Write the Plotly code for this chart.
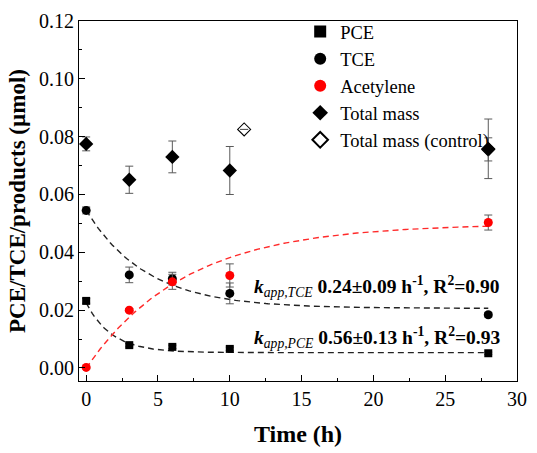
import numpy as np
import plotly.graph_objects as go

# Sampling times (h)
time_h = [0, 3, 6, 10, 28]

# Measured amounts (umol)
pce = [0.0232, 0.0079, 0.0073, 0.0066, 0.0051]
pce_err = [0.0008, 0.0006, 0.0006, 0.0006, 0.0004]
tce = [0.0545, 0.0322, 0.0309, 0.0258, 0.0184]
tce_err = [0.0012, 0.0027, 0.0022, 0.0036, 0.0008]
acetylene = [0.0002, 0.0200, 0.0298, 0.0320, 0.0503]
acetylene_err = [0.0004, 0.0005, 0.0026, 0.0040, 0.0026]
total_mass = [0.0775, 0.0651, 0.0730, 0.0683, 0.0758]
total_mass_err = [0.0024, 0.0047, 0.0055, 0.0083, 0.0103]

control_time = [11, 28]
control_mass = [0.0825, 0.0756]
control_err = [0.0, 0.0040]

# First-order fit parameters
k_tce, k_pce, k_ace = 0.24, 0.56, 0.145
tce_c0, tce_inf = 0.0545, 0.0206
pce_c0, pce_inf = 0.0225, 0.0053
ace_max = 0.0499

t_fit = np.linspace(0, 28, 200)
tce_fit = tce_inf + (tce_c0 - tce_inf) * np.exp(-k_tce * t_fit)
pce_fit = pce_inf + (pce_c0 - pce_inf) * np.exp(-k_pce * t_fit)
ace_fit = ace_max * (1 - np.exp(-k_ace * t_fit))

SERIF = "Liberation Serif"
ERR_COLOR = "#5a5a5a"

fig = go.Figure()

for yv, col in [(tce_fit, "#222222"), (pce_fit, "#222222"), (ace_fit, "#ff2a2a")]:
    fig.add_trace(go.Scatter(x=t_fit, y=yv, mode="lines", showlegend=False,
                             line=dict(color=col, width=1.4, dash="6px,4px"),
                             hoverinfo="skip"))

def err(vals):
    return dict(type="data", array=vals, visible=True, color=ERR_COLOR,
                thickness=1, width=4)

fig.add_trace(go.Scatter(x=time_h, y=pce, mode="markers", name="PCE",
                         error_y=err(pce_err), legendrank=1,
                         marker=dict(symbol="square", size=8, color="black")))
fig.add_trace(go.Scatter(x=time_h, y=tce, mode="markers", name="TCE",
                         error_y=err(tce_err), legendrank=2,
                         marker=dict(symbol="circle", size=9, color="black")))
fig.add_trace(go.Scatter(x=time_h, y=acetylene, mode="markers", name="Acetylene",
                         error_y=err(acetylene_err), legendrank=3,
                         marker=dict(symbol="circle", size=9, color="#ff0000")))
fig.add_trace(go.Scatter(x=control_time, y=control_mass, mode="markers",
                         name="Total mass (control)", error_y=err(control_err),
                         legendrank=5,
                         marker=dict(symbol="diamond-open", size=10, color="black",
                                     line=dict(width=1.1))))
fig.add_trace(go.Scatter(x=time_h, y=total_mass, mode="markers", name="Total mass",
                         error_y=err(total_mass_err), legendrank=4,
                         marker=dict(symbol="diamond", size=11, color="black")))

label_font = dict(family=SERIF, size=19.5, color="black")
fig.add_annotation(x=11.55, y=0.0283, xref="x", yref="y", xanchor="left",
                   yanchor="middle", showarrow=False, font=label_font,
                   text="<b><i>k</i></b><sub><i>app,TCE</i></sub> "
                        "<b>0.24±0.09 h<sup>-1</sup>, R<sup>2</sup>=0.90</b>")
fig.add_annotation(x=11.55, y=0.0107, xref="x", yref="y", xanchor="left",
                   yanchor="middle", showarrow=False, font=label_font,
                   text="<b><i>k</i></b><sub><i>app,PCE</i></sub> "
                        "<b>0.56±0.13 h<sup>-1</sup>, R<sup>2</sup>=0.93</b>")

axis_common = dict(showline=True, linecolor="black", linewidth=1.2, mirror=True,
                   ticks="inside", ticklen=6, tickwidth=1, tickcolor="black",
                   showgrid=False, zeroline=False,
                   tickfont=dict(family=SERIF, size=20, color="black"),
                   minor=dict(ticks="inside", ticklen=3, tickcolor="black"))

fig.update_xaxes(range=[-0.5, 30], tickvals=[0, 5, 10, 15, 20, 25, 30],
                 minor_dtick=2.5,
                 title=dict(text="<b>Time (h)</b>", standoff=16,
                            font=dict(family=SERIF, size=24, color="black")),
                 **axis_common)
fig.update_yaxes(range=[-0.0045, 0.12], tickvals=[0, 0.02, 0.04, 0.06, 0.08, 0.10, 0.12],
                 tickformat=".2f", minor_dtick=0.01,
                 title=dict(text="<b>PCE/TCE/products (µmol)</b>", standoff=6,
                            font=dict(family=SERIF, size=23, color="black")),
                 **axis_common)

fig.update_layout(
    width=537, height=453,
    margin=dict(l=79, r=10, t=21, b=66),
    plot_bgcolor="white", paper_bgcolor="white",
    font=dict(family=SERIF, color="black"),
    legend=dict(x=0.505, y=1.022, xanchor="left", yanchor="top",
                bgcolor="rgba(0,0,0,0)", tracegroupgap=0,
                font=dict(family=SERIF, size=18.5, color="black"),
                itemsizing="constant"),
)

fig.write_html("out.html")
